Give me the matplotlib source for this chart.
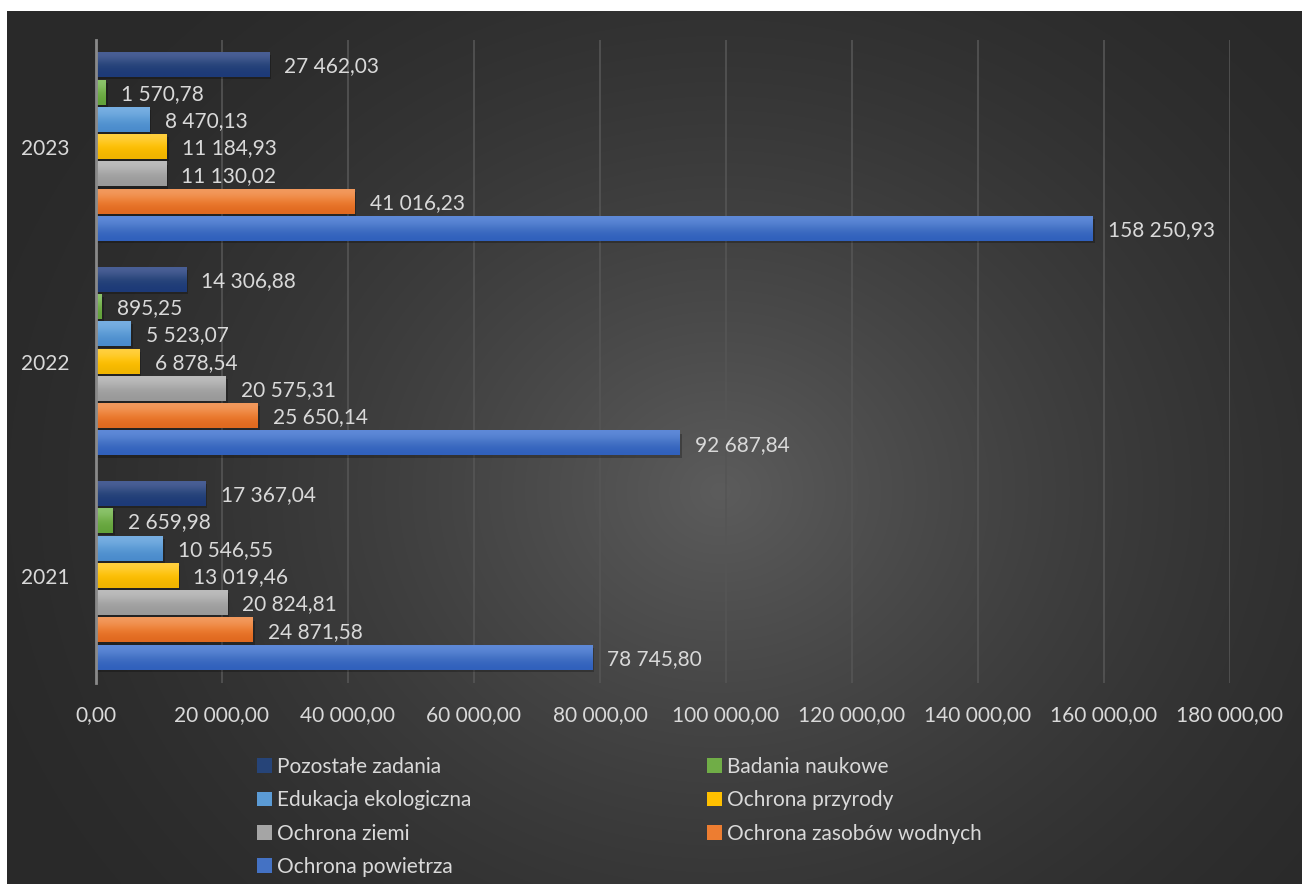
import numpy as np
import matplotlib
matplotlib.use("Agg")
import matplotlib.pyplot as plt
from matplotlib.patches import Patch
from matplotlib import patheffects as pe
from matplotlib.colors import to_rgb

plt.rcParams['font.family'] = ['Lato', 'DejaVu Sans']

years = ["2021", "2022", "2023"]
series = ["Ochrona powietrza", "Ochrona zasobów wodnych", "Ochrona ziemi",
          "Ochrona przyrody", "Edukacja ekologiczna", "Badania naukowe",
          "Pozostałe zadania"]
ochrona_powietrza = [78745.80, 92687.84, 158250.93]
ochrona_wodnych = [24871.58, 25650.14, 41016.23]
ochrona_ziemi = [20824.81, 20575.31, 11130.02]
ochrona_przyrody = [13019.46, 6878.54, 11184.93]
edukacja = [10546.55, 5523.07, 8470.13]
badania = [2659.98, 895.25, 1570.78]
pozostale = [17367.04, 14306.88, 27462.03]
values = [ochrona_powietrza, ochrona_wodnych, ochrona_ziemi, ochrona_przyrody,
          edukacja, badania, pozostale]
xticks = [0, 20000, 40000, 60000, 80000, 100000, 120000, 140000, 160000, 180000]

colors_top = ["#5f8ad8", "#f29a5e", "#bdbdbd", "#ffd040", "#78afe2", "#8cc46c", "#4b6096"]
colors_mid = ["#4472c4", "#ed7d31", "#a5a5a5", "#ffc000", "#5b9bd5", "#70ad47", "#264478"]
colors_bot = ["#3060bc", "#e0691f", "#999999", "#f0b400", "#4a8bcc", "#62a23a", "#1d3a78"]

W, H = 1302, 884
fig = plt.figure(figsize=(W / 100, H / 100), dpi=100, facecolor="white")

# background panel with radial gradient
bg = fig.add_axes([7 / W, 0, 1 - 7 / W, 1 - 11 / H], zorder=-10)
bw, bh = 1295, 873
yy, xx = np.mgrid[0:bh, 0:bw]
d = np.sqrt((xx - 713) ** 2 + ((yy - 480) * 1.15) ** 2)
t = np.clip(1 - d / 820, 0, 1) ** 1.6
dark = np.array([0x29, 0x29, 0x29]) / 255
light = np.array([0x5c, 0x5c, 0x5c]) / 255
img = dark[None, None, :] + (light - dark)[None, None, :] * t[:, :, None]
bg.imshow(img, aspect="auto", interpolation="bilinear")
bg.set_axis_off()

ax = fig.add_axes([96 / W, 1 - 683 / H, (1230 - 96) / W, (683 - 40) / H])
ax.patch.set_alpha(0)

slot = 0.1275
height = 0.112
ypos = np.arange(len(years))
txt_color = "#d9d9d9"
fs = 15

def fmt(v):
    return f"{v:,.2f}".replace(",", " ").replace(".", ",")

for i, (name, vals) in enumerate(zip(series, values)):
    off = (i - 3) * slot
    bars = ax.barh(ypos + off, vals, height=height, color=colors_mid[i], zorder=3,
                   path_effects=[pe.SimplePatchShadow(offset=(1.5, -1.5), shadow_rgbFace="black", alpha=0.25),
                                 pe.Normal()])
    grad = np.array([to_rgb(colors_bot[i]), to_rgb(colors_mid[i]), to_rgb(colors_top[i])])
    grad = grad[::-1][:, None, :]
    for b, v in zip(bars, vals):
        x0, y0, w, h = b.get_x(), b.get_y(), b.get_width(), b.get_height()
        ax.imshow(grad, extent=(x0, x0 + w, y0, y0 + h), origin="upper",
                  aspect="auto", interpolation="bicubic", zorder=4)
        ax.annotate(fmt(v), xy=(x0 + w, y0 + h / 2), xytext=(11, -1),
                    textcoords="offset points", va="center", ha="left",
                    color=txt_color, fontsize=fs, zorder=5)

ax.set_xlim(0, 180000)
ax.set_ylim(-0.5, 2.5)
ax.set_xticks(xticks)
ax.set_xticklabels([fmt(v) for v in xticks], color=txt_color, fontsize=fs)
ax.set_yticks(ypos)
ax.set_yticklabels(years, color=txt_color, fontsize=fs)
ax.tick_params(axis="x", length=0, pad=16)
ax.tick_params(axis="y", length=0, pad=19)
ax.grid(axis="x", color="#555555", linewidth=1.2, zorder=0)
for s in ["top", "right", "bottom"]:
    ax.spines[s].set_visible(False)
ax.spines["left"].set_color("#8a8a8a")
ax.spines["left"].set_linewidth(2)
ax.spines["left"].set_zorder(6)

handles = {n: Patch(facecolor=c, edgecolor="none") for n, c in zip(series, colors_mid)}
col1 = ["Pozostałe zadania", "Edukacja ekologiczna", "Ochrona ziemi", "Ochrona powietrza"]
col2 = ["Badania naukowe", "Ochrona przyrody", "Ochrona zasobów wodnych"]
for names, x in [(col1, 257), (col2, 707)]:
    fig.legend([handles[n] for n in names], names, loc="upper left",
               bbox_to_anchor=(x / W, 1 - 757 / H), frameon=False,
               fontsize=fs, labelcolor=txt_color, handlelength=0.7,
               handleheight=0.7, handletextpad=0.25, labelspacing=0.64,
               borderaxespad=0, borderpad=0)

fig.savefig("out.png", dpi=100, facecolor="white")
